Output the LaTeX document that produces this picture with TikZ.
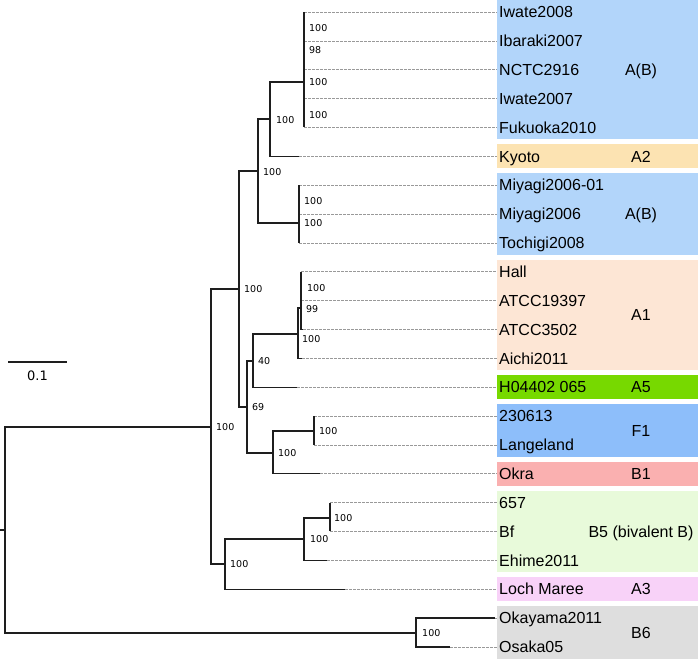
\documentclass[tikz,border=0pt]{standalone}
\usepackage{fontspec}
\setmainfont{Liberation Sans}
\newfontfamily\supfont{DejaVu Sans}
\definecolor{cAB}{RGB}{178,213,250}
\definecolor{cAtwo}{RGB}{252,227,178}
\definecolor{cAone}{RGB}{253,230,213}
\definecolor{cAfive}{RGB}{119,217,0}
\definecolor{cFone}{RGB}{141,190,250}
\definecolor{cBone}{RGB}{250,176,176}
\definecolor{cBfive}{RGB}{232,250,218}
\definecolor{cAthree}{RGB}{248,210,248}
\definecolor{cBsix}{RGB}{222,222,222}
\definecolor{brc}{RGB}{30,30,30}
\begin{document}
\begin{tikzpicture}[x=1pt,y=-1pt,
  br/.style={line width=1.3pt, draw=brc, line join=miter},
  dl/.style={draw=gray!80, line width=0.6pt, dash pattern=on 2.5pt off 1.5pt},
  lf/.style={anchor=base west, inner sep=0pt, font=\fontsize{16}{16}\selectfont},
  grp/.style={anchor=base, inner sep=0pt, font=\fontsize{16}{16}\selectfont},
  sup/.style={anchor=west, inner sep=0pt, font=\supfont\fontsize{9.5}{9.5}\selectfont}]
\useasboundingbox (0,0) rectangle (700,659);
\def\sp{28.86}
% group boxes
\foreach \a/\b/\c in {0/4/cAB,5/5/cAtwo,6/8/cAB,9/12/cAone,13/13/cAfive,14/15/cFone,16/16/cBone,17/19/cBfive,20/20/cAthree,21/22/cBsix}{
  \fill[\c] (497,{12+\sp*\a-11.9}) rectangle (698,{12+\sp*\b+11.9});
}
% leaves
\foreach \i/\tx/\lab in {0/304/Iwate2008,1/304/Ibaraki2007,2/304/NCTC2916,3/304/Iwate2007,4/304/Fukuoka2010,5/299/Kyoto,6/299/Miyagi2006-01,7/299/Miyagi2006,8/299/Tochigi2008,9/301/Hall,10/301/ATCC19397,11/303/ATCC3502,12/302/Aichi2011,13/297/H04402 065,14/314/230613,15/314/Langeland,16/320/Okra,17/330/657,18/330/Bf,19/327/Ehime2011,20/345/Loch Maree,21/495/Okayama2011,22/450/Osaka05}{
  \coordinate (t\i) at (\tx,{12+\sp*\i});
  \coordinate (e\i) at (497,{12+\sp*\i});
  \draw[dl] (t\i) -- (e\i);
  \node[lf] (l\i) at (499,{12+\sp*\i+5.7}) {\lab};
}
% group labels
\node[grp] (gAB1) at (641,{12+\sp*2+5.7}) {A(B)};
\node[grp] (gA2) at (641,{12+\sp*5+5.7}) {A2};
\node[grp] (gAB2) at (641,{12+\sp*7+5.7}) {A(B)};
\node[grp] (gA1) at (641,{12+\sp*10.5+5.7}) {A1};
\node[grp] (gA5) at (641,{12+\sp*13+5.7}) {A5};
\node[grp] (gF1) at (641,{12+\sp*14.5+5.7}) {F1};
\node[grp] (gB1) at (641,{12+\sp*16+5.7}) {B1};
\node[grp] (gB5) at (641,{12+\sp*18+5.7}) {B5 (bivalent B)};
\node[grp] (gA3) at (641,{12+\sp*20+5.7}) {A3};
\node[grp] (gB6) at (641,{12+\sp*21.5+5.7}) {B6};
% internal nodes
\coordinate (R0) at (0,530);
\coordinate (R) at (5,530);
\coordinate (M) at (211,427);
\coordinate (B6n) at (416,633);
\coordinate (U) at (239,289);
\coordinate (V) at (225,564);
\coordinate (T) at (258,171);
\coordinate (X) at (247,407);
\coordinate (S) at (270,119);
\coordinate (Mi) at (299,223);
\coordinate (A) at (304,82);
\coordinate (Y) at (253,361);
\coordinate (Z) at (273,453);
\coordinate (P) at (298,334);
\coordinate (Q) at (301,308);
\coordinate (F) at (314,431);
\coordinate (B5n) at (304,539);
\coordinate (C) at (330,518);
% branches
\draw[br] (R0) -- (R);
\draw[br] (R) |- (M);
\draw[br] (R) |- (B6n);
\draw[br] (M) |- (U);
\draw[br] (M) |- (V);
\draw[br] (U) |- (T);
\draw[br] (U) |- (X);
\draw[br] (T) |- (S);
\draw[br] (T) |- (Mi);
\draw[br] (S) |- (A);
\draw[br] (S) |- (t5);
\draw[br] (A) |- (t0);
\draw[br] (A) |- (t4);
\draw[br] (Mi) |- (t6);
\draw[br] (Mi) |- (t8);
\draw[br] (X) |- (Y);
\draw[br] (X) |- (Z);
\draw[br] (Y) |- (P);
\draw[br] (Y) |- (t13);
\draw[br] (P) |- (Q);
\draw[br] (P) |- (t12);
\draw[br] (Q) |- (t9);
\draw[br] (Q) |- (t11);
\draw[br] (Z) |- (F);
\draw[br] (Z) |- (t16);
\draw[br] (F) |- (t14);
\draw[br] (F) |- (t15);
\draw[br] (V) |- (B5n);
\draw[br] (V) |- (t20);
\draw[br] (B5n) |- (C);
\draw[br] (B5n) |- (t19);
\draw[br] (C) |- (t17);
\draw[br] (C) |- (t18);
\draw[br] (B6n) |- (t21);
\draw[br] (B6n) |- (t22);
% support values
\node[sup] (s1) at (309,28) {100};
\node[sup] (s2) at (309,50) {98};
\node[sup] (s3) at (309,82) {100};
\node[sup] (s4) at (309,115) {100};
\node[sup] (s5) at (276,120) {100};
\node[sup] (s6) at (263,172) {100};
\node[sup] (s7) at (304,201) {100};
\node[sup] (s8) at (304,223) {100};
\node[sup] (s9) at (244,289) {100};
\node[sup] (s10) at (307,288) {100};
\node[sup] (s11) at (306,309) {99};
\node[sup] (s12) at (302,339) {100};
\node[sup] (s13) at (258,361) {40};
\node[sup] (s14) at (252,407) {69};
\node[sup] (s15) at (216,427) {100};
\node[sup] (s16) at (319,431) {100};
\node[sup] (s17) at (278,453) {100};
\node[sup] (s18) at (334,518) {100};
\node[sup] (s19) at (310,539) {100};
\node[sup] (s20) at (230,564) {100};
\node[sup] (s21) at (422,633) {100};
% scale bar
\coordinate (sb1) at (8,362);
\coordinate (sb2) at (67,362);
\draw[line width=1.3pt, draw=brc] (sb1) -- (sb2);
\node[inner sep=0pt, font=\supfont\fontsize{13}{13}\selectfont] (sbl) at (37.5,376) {0.1};
\end{tikzpicture}
\end{document}
